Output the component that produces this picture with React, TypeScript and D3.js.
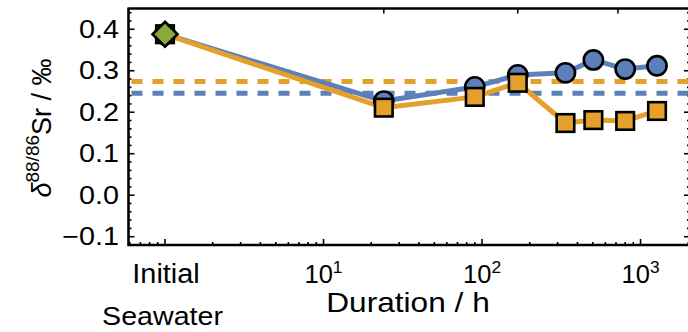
import React from 'react';
import * as d3 from 'd3';

const initialLabel = 'Initial';
const initialLabel2 = 'Seawater';
const initialDuration = 1;
const initialValue = 0.388;
const durations = [24, 90, 168, 336, 504, 800, 1270];
const seriesCircle = [0.227, 0.261, 0.29, 0.295, 0.326, 0.304, 0.312];
const seriesSquare = [0.211, 0.237, 0.271, 0.174, 0.181, 0.179, 0.203];
const refCircle = 0.246;
const refSquare = 0.274;
const yTicks = [-0.1, 0, 0.1, 0.2, 0.3, 0.4];
const xDecadeExp = [1, 2, 3];
const topTicks = [24, 168, 720];

const BLUE = '#5b80ba';
const ORANGE = '#e3a02b';
const GREEN = '#89aa3a';
const FONT = 'Liberation Sans, Arial, sans-serif';

function SText(props: { x: number; y: number; sx?: number; anchor?: string; size: number; dy?: string; children: React.ReactNode }) {
  const { x, y, sx = 1.12, anchor = 'middle', size, dy, children } = props;
  return (
    <text transform={`translate(${x},${y}) scale(${sx},1)`} textAnchor={anchor} fontSize={size} dy={dy}>
      {children}
    </text>
  );
}

export default function App() {
  const W = 688, H = 332;
  const L = 128.5, R = 690, T = 8.5, B = 245;
  const x = d3.scaleLog().domain([0.5885, 2051]).range([L, R]);
  const y = d3.scaleLinear().domain([-0.12, 0.45]).range([B, T]);

  const minorY: number[] = [];
  for (let i = -6; i <= 22; i++) minorY.push(+(i * 0.02).toFixed(2));
  const minorX: number[] = [];
  for (let e = -1; e <= 3; e++) for (let k = 1; k <= 9; k++) {
    const v = k * Math.pow(10, e);
    if (v > 0.5885 && v < 2051) minorX.push(v);
  }
  const majorX = [1, 10, 100, 1000];

  const circlePts: [number, number][] = [[initialDuration, initialValue], ...durations.map((d, i) => [d, seriesCircle[i]] as [number, number])];
  const squarePts: [number, number][] = [[initialDuration, initialValue], ...durations.map((d, i) => [d, seriesSquare[i]] as [number, number])];
  const line = d3.line<[number, number]>().x(d => x(d[0])).y(d => y(d[1]));

  const sq = 8.8;
  const rc = 9.6;
  const dm = 12.5;

  return (
    <svg width={W} height={H} style={{ position: 'absolute', left: 0, top: 0, background: '#fff' }} fontFamily={FONT}>
      <defs>
        <clipPath id="plot"><rect x={L} y={T} width={R - L} height={B - T} /></clipPath>
      </defs>
      {/* ticks */}
      <g stroke="#000" strokeWidth={1.6}>
        {minorY.map(v => {
          const major = yTicks.some(t => Math.abs(t - v) < 1e-6);
          const len = major ? 6 : 3;
          return (
            <g key={'y' + v}>
              <line x1={L} x2={L + len} y1={y(v)} y2={y(v)} />
              <line x1={R} x2={R - len} y1={y(v)} y2={y(v)} />
            </g>
          );
        })}
        {minorX.map(v => {
          const major = majorX.some(t => Math.abs(t - v) < 1e-6);
          const len = major ? 6 : 3;
          return <line key={'x' + v} x1={x(v)} x2={x(v)} y1={B} y2={B - len} />;
        })}
        {topTicks.map(v => <line key={'t' + v} x1={x(v)} x2={x(v)} y1={T} y2={T + 5} />)}
      </g>
      {/* reference dashed lines */}
      <g clipPath="url(#plot)">
        <line x1={L} x2={R} y1={y(refSquare)} y2={y(refSquare)} stroke={ORANGE} strokeWidth={5} strokeDasharray="11 10" strokeDashoffset={-3} />
        <line x1={L} x2={R} y1={y(refCircle)} y2={y(refCircle)} stroke={BLUE} strokeWidth={5} strokeDasharray="11 10" strokeDashoffset={-3} />
      </g>
      {/* series lines */}
      <path d={line(circlePts) || ''} fill="none" stroke={BLUE} strokeWidth={5} strokeLinejoin="round" />
      <path d={line(squarePts) || ''} fill="none" stroke={ORANGE} strokeWidth={5} strokeLinejoin="round" />
      {/* markers */}
      {circlePts.map((p, i) => (
        <circle key={'c' + i} cx={x(p[0])} cy={y(p[1])} r={rc} fill={BLUE} stroke="#000" strokeWidth={2.6} />
      ))}
      {squarePts.map((p, i) => (
        <rect key={'s' + i} x={x(p[0]) - sq} y={y(p[1]) - sq} width={sq * 2} height={sq * 2} fill={ORANGE} stroke="#000" strokeWidth={2.6} />
      ))}
      <path
        d={`M${x(initialDuration)},${y(initialValue) - dm}L${x(initialDuration) + dm},${y(initialValue)}L${x(initialDuration)},${y(initialValue) + dm}L${x(initialDuration) - dm},${y(initialValue)}Z`}
        fill={GREEN} stroke="#000" strokeWidth={2.6} strokeLinejoin="miter"
      />
      {/* frame */}
      <path d={`M${L},${T}H${R}M${L},${T - 1}V${B}H${R}`} fill="none" stroke="#000" strokeWidth={2.6} />
      {/* y tick labels */}
      {yTicks.map(v => (
        <SText key={'yl' + v} x={119} y={y(v)} dy="0.35em" anchor="end" size={25} sx={1.15}>
          {v < 0 ? '\u2212' + Math.abs(v).toFixed(1) : v.toFixed(1)}
        </SText>
      ))}
      {/* x tick labels */}
      {xDecadeExp.map(e => (
        <SText key={'xl' + e} x={x(Math.pow(10, e))} y={283} size={25} sx={1.02}>
          <tspan>10</tspan>
          <tspan dy={-10} fontSize={17}>{e}</tspan>
        </SText>
      ))}
      <SText x={x(initialDuration) + 1} y={283} size={27} sx={1.07}>{initialLabel}</SText>
      <SText x={162.5} y={325} size={26} sx={1.1}>{initialLabel2}</SText>
      <SText x={408} y={312} size={28} sx={1.13}>Duration / h</SText>
      {/* y axis title */}
      <text transform="translate(51,128) rotate(-90)" textAnchor="middle" fontSize={27}>
        <tspan fontStyle="italic">δ</tspan>
        <tspan dy={-12} fontSize={19}>88/86</tspan>
        <tspan dy={12}>Sr / ‰</tspan>
      </text>
    </svg>
  );
}
